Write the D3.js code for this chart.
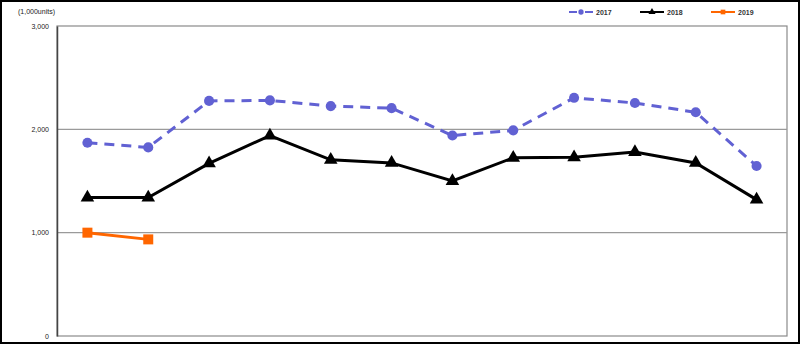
<!DOCTYPE html>
<html>
<head>
<meta charset="utf-8">
<script src="https://cdn.jsdelivr.net/npm/d3@7"></script>
<style>
  body { margin: 0; background: #fff; }
  svg { display: block; font-family: "Liberation Sans", Arial, sans-serif; }
</style>
</head>
<body>
<div id="chart"></div>
<script>
// Data
const months = ["1", "2", "3", "4", "5", "6", "7", "8", "9", "10", "11", "12"];
const values2017 = [1870, 1825, 2275, 2280, 2225, 2205, 1940, 1990, 2305, 2255, 2165, 1645];
const values2018 = [1340, 1340, 1670, 1940, 1705, 1675, 1500, 1725, 1730, 1780, 1675, 1320];
const values2019 = [1000, 935];
const yTicks = [0, 1000, 2000, 3000];

const width = 800;
const height = 344;
const margin = { top: 26, right: 13, bottom: 8, left: 57 };

const svg = d3.select("#chart")
    .append("svg")
    .attr("width", width)
    .attr("height", height);

// Outer frame
svg.append("rect")
    .attr("x", 1).attr("y", 1)
    .attr("width", width - 2).attr("height", height - 2)
    .attr("fill", "#fff")
    .attr("stroke", "#000")
    .attr("stroke-width", 2);

const x = d3.scaleBand()
    .domain(months)
    .range([margin.left, width - margin.right]);

const y = d3.scaleLinear()
    .domain([0, 3000])
    .range([height - margin.bottom, margin.top]);

// Plot frame
svg.append("rect")
    .attr("x", margin.left)
    .attr("y", margin.top)
    .attr("width", width - margin.left - margin.right)
    .attr("height", height - margin.top - margin.bottom)
    .attr("fill", "#fff")
    .attr("stroke", "#8a8a8a")
    .attr("stroke-width", 1.2);

// Gridlines
svg.append("g")
    .selectAll("line")
    .data(yTicks.filter(d => d > 0 && d < 3000))
    .join("line")
    .attr("x1", margin.left)
    .attr("x2", width - margin.right)
    .attr("y1", d => y(d))
    .attr("y2", d => y(d))
    .attr("stroke", "#9a9a9a")
    .attr("stroke-width", 1.2);

// Y axis
const yAxis = svg.append("g")
    .attr("transform", `translate(${margin.left},0)`)
    .call(d3.axisLeft(y).tickValues(yTicks).tickSize(0).tickPadding(8)
        .tickFormat(d3.format(",")));
yAxis.select(".domain").attr("stroke", "#444").attr("stroke-width", 1.5);
yAxis.selectAll("text").attr("font-size", 7).attr("fill", "#222");

svg.append("text")
    .attr("x", 18)
    .attr("y", 14)
    .attr("font-size", 7)
    .attr("fill", "#222")
    .text("(1,000units)");

const cx = (d, i) => x(months[i]) + x.bandwidth() / 2;
const line = d3.line().x(cx).y(d => y(d));

const series = [
    { name: "2017", values: values2017, color: "#6161d3", dash: "10,7", marker: "circle", width: 3 },
    { name: "2018", values: values2018, color: "#000000", dash: null, marker: "triangle", width: 3 },
    { name: "2019", values: values2019, color: "#ff6600", dash: null, marker: "square", width: 3 }
];

const symbolFor = m => m === "circle" ? d3.symbolCircle : m === "triangle" ? d3.symbolTriangle : d3.symbolSquare;
const sizeFor = m => m === "circle" ? 80 : m === "triangle" ? 80 : 100;

series.forEach(s => {
    svg.append("path")
        .datum(s.values)
        .attr("d", line)
        .attr("fill", "none")
        .attr("stroke", s.color)
        .attr("stroke-width", s.width)
        .attr("stroke-dasharray", s.dash);

    svg.append("g")
        .selectAll("path")
        .data(s.values)
        .join("path")
        .attr("transform", (d, i) => `translate(${cx(d, i)},${y(d)})`)
        .attr("d", d3.symbol().type(symbolFor(s.marker)).size(sizeFor(s.marker)))
        .attr("fill", s.color);
});

// Legend
const legendX = [569, 640, 711];
const legend = svg.append("g");
series.forEach((s, i) => {
    const g = legend.append("g").attr("transform", `translate(${legendX[i]},12)`);
    g.append("line")
        .attr("x1", 0).attr("x2", 24)
        .attr("stroke", s.color)
        .attr("stroke-width", 2)
        .attr("stroke-dasharray", s.dash ? "8,8" : null);
    g.append("path")
        .attr("transform", "translate(12,0)")
        .attr("d", d3.symbol().type(symbolFor(s.marker)).size(s.marker === "circle" ? 22 : 22))
        .attr("fill", s.color);
    g.append("text")
        .attr("x", 27)
        .attr("y", 2.5)
        .attr("font-size", 7)
        .attr("font-weight", "bold")
        .attr("fill", "#333")
        .text(s.name);
});
</script>
</body>
</html>
